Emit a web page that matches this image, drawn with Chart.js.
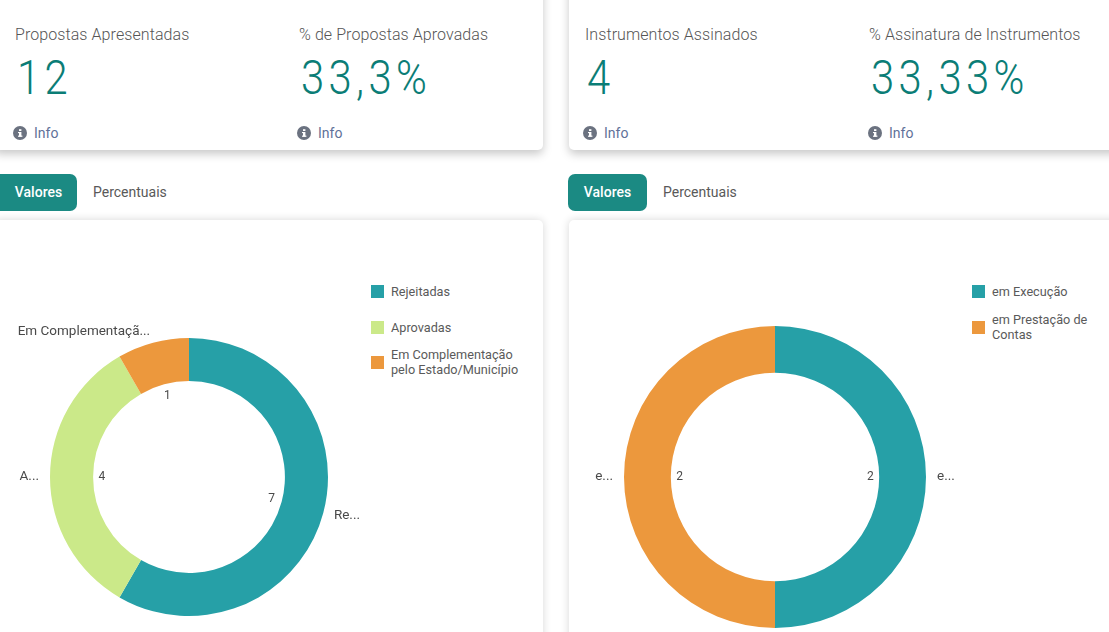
<!DOCTYPE html>
<html lang="pt">
<head>
<meta charset="utf-8">
<title>Propostas e Instrumentos</title>
<script src="https://cdn.jsdelivr.net/npm/chart.js@4"></script>
<style>
  html, body { margin: 0; padding: 0; background: #fff; }
  body { width: 1109px; height: 632px; position: relative; overflow: hidden; font-family: Roboto, sans-serif; color: #595959; }
  .card { position: absolute; background: #fff; border-radius: 5px; }
  .kpi-card { top: -20px; height: 170px; box-shadow: 0 4px 10px rgba(0,0,0,.22); }
  .chart-card { top: 220px; height: 440px; box-shadow: 0 0 8px rgba(0,0,0,.16); }
  .kpi-title, .kpi-value, .info, .tab, .legend-item { position: absolute; white-space: nowrap; }
  .kpi-title { top: 26px; font-size: 16px; font-weight: 300; letter-spacing: .08px; line-height: 18px; color: #555; }
  .kpi-value { top: 48px; font-size: 48px; font-weight: 300; letter-spacing: 5px; line-height: 60px; color: #0b7d76; transform: scaleX(.87); transform-origin: 0 50%; }
  .info { top: 124px; height: 18px; font-size: 14px; line-height: 18px; color: #5f7199; }
  .info svg { position: absolute; left: 1px; top: 2px; }
  .info span { position: absolute; left: 22px; }
  .tab { top: 174px; height: 37px; line-height: 37px; font-size: 14px; text-align: center; box-sizing: border-box; }
  .tab.on { background: #1b8a83; color: #fff; border-radius: 7px; font-weight: 500; }
  .legend-item { font-size: 12.7px; line-height: 15px; color: #5a5a5a; white-space: normal; width: 135px; }
  .legend-item i { position: absolute; left: -20px; top: 50%; width: 13px; height: 13px; margin-top: -6.5px; }
  canvas { position: absolute; }
</style>
</head>
<body>
<div class="card kpi-card" style="left:-6px;width:549px"></div>
<div class="card kpi-card" style="left:569px;width:560px"></div>
<div class="card chart-card" style="left:-6px;width:549px"></div>
<div class="card chart-card" style="left:569px;width:560px"></div>

<div class="tab on" style="left:-6px;width:83px;padding-left:6px">Valores</div>
<div class="tab" style="left:93px">Percentuais</div>
<div class="tab on" style="left:568px;width:79px">Valores</div>
<div class="tab" style="left:663px">Percentuais</div>

<div id="kpis"></div>
<div id="legends"></div>

<canvas id="propostas" style="left:0;top:322px;width:378px;height:310px"></canvas>
<canvas id="instrumentos" style="left:575px;top:322px;width:400px;height:310px"></canvas>

<script>
const kpiTitles = ['Propostas Apresentadas', '% de Propostas Aprovadas', 'Instrumentos Assinados', '% Assinatura de Instrumentos'];
const kpiValues = ['12', '33,3%', '4', '33,33%'];
const kpiLeft = [15, 299, 585, 869];
const infoLeft = [12, 296, 582, 867];

const propostasLabels = ['Rejeitadas', 'Aprovadas', 'Em Complementação pelo Estado/Município'];
const propostasShort = ['Re...', 'A...', 'Em Complementaçã...'];
const propostasValues = [7, 4, 1];
const propostasColors = ['#26a0a7', '#cbe989', '#ec983d'];

const instrumentosLabels = ['em Execução', 'em Prestação de Contas'];
const instrumentosShort = ['e...', 'e...'];
const instrumentosValues = [2, 2];
const instrumentosColors = ['#26a0a7', '#ec983d'];

// KPI blocks: title, large value and the info link below
const infoIcon = '<svg width="14" height="14" viewBox="0 0 14 14"><circle cx="7" cy="7" r="7" fill="#6b7280"/>' +
  '<rect x="6" y="6" width="2.4" height="4.6" fill="#fff"/><rect x="5" y="9.6" width="4.4" height="1.2" fill="#fff"/>' +
  '<rect x="5" y="6" width="2" height="1.1" fill="#fff"/><rect x="6" y="3.2" width="2.4" height="1.8" fill="#fff"/></svg>';
const kpis = document.getElementById('kpis');
kpiTitles.forEach((title, i) => {
  const x = kpiLeft[i];
  kpis.insertAdjacentHTML('beforeend',
    `<div class="kpi-title" style="left:${x}px">${title}</div>` +
    `<div class="kpi-value" style="left:${x + 2}px">${kpiValues[i]}</div>` +
    `<div class="info" style="left:${infoLeft[i]}px">${infoIcon}<span>Info</span></div>`);
});

// Side legends; each entry is centred on its own row
function addLegend(labels, colors, left, rows) {
  const box = document.getElementById('legends');
  labels.forEach((label, i) => {
    const el = document.createElement('div');
    el.className = 'legend-item';
    el.style.left = left + 'px';
    el.innerHTML = `<i style="background:${colors[i]}"></i>${label}`;
    box.appendChild(el);
    el.style.top = (rows[i] - el.offsetHeight / 2) + 'px';
  });
}
addLegend(propostasLabels, propostasColors, 391, [291.5, 327.5, 362]);
addLegend(instrumentosLabels, instrumentosColors, 992, [291.5, 327]);

// Writes the value just inside the hole and the shortened category name outside the ring
const sliceLabels = {
  id: 'sliceLabels',
  afterDatasetsDraw(chart, args, opts) {
    const ctx = chart.ctx;
    ctx.save();
    ctx.fillStyle = '#4a4a4a';
    chart.getDatasetMeta(0).data.forEach((arc, i) => {
      const mid = (arc.startAngle + arc.endAngle) / 2;
      const cos = Math.cos(mid), sin = Math.sin(mid);
      const value = String(chart.data.datasets[0].data[i]);
      ctx.font = '12px Roboto, sans-serif';
      const w = ctx.measureText(value).width;
      const r = arc.innerRadius - 5.5 - Math.abs(cos) * w / 2 - Math.abs(sin) * 6;
      ctx.textAlign = 'center';
      ctx.textBaseline = 'middle';
      ctx.fillText(value, arc.x + cos * r, arc.y + sin * r);
      ctx.font = '13.5px Roboto, sans-serif';
      const R = arc.outerRadius + 11;
      const nearTop = sin < -0.9;
      ctx.textAlign = cos >= 0 ? 'left' : 'right';
      ctx.textBaseline = nearTop ? 'bottom' : 'middle';
      ctx.fillText(opts.short[i], arc.x + cos * R, arc.y + sin * R + (nearTop ? 6 : 0));
    });
    ctx.restore();
  }
};

function donut(id, labels, short, values, colors, radius) {
  return new Chart(document.getElementById(id), {
    type: 'doughnut',
    data: { labels, datasets: [{ data: values, backgroundColor: colors, borderWidth: 0 }] },
    options: {
      responsive: false,
      animation: false,
      radius,
      cutout: '69%',
      plugins: { legend: { display: false }, tooltip: { enabled: false }, sliceLabels: { short } }
    },
    plugins: [sliceLabels]
  });
}
function sized(id, w, h) { const c = document.getElementById(id); c.width = w; c.height = h; }
sized('propostas', 378, 310);
sized('instrumentos', 400, 310);
donut('propostas', propostasLabels, propostasShort, propostasValues, propostasColors, 139);
donut('instrumentos', instrumentosLabels, instrumentosShort, instrumentosValues, instrumentosColors, 151);
</script>
</body>
</html>
